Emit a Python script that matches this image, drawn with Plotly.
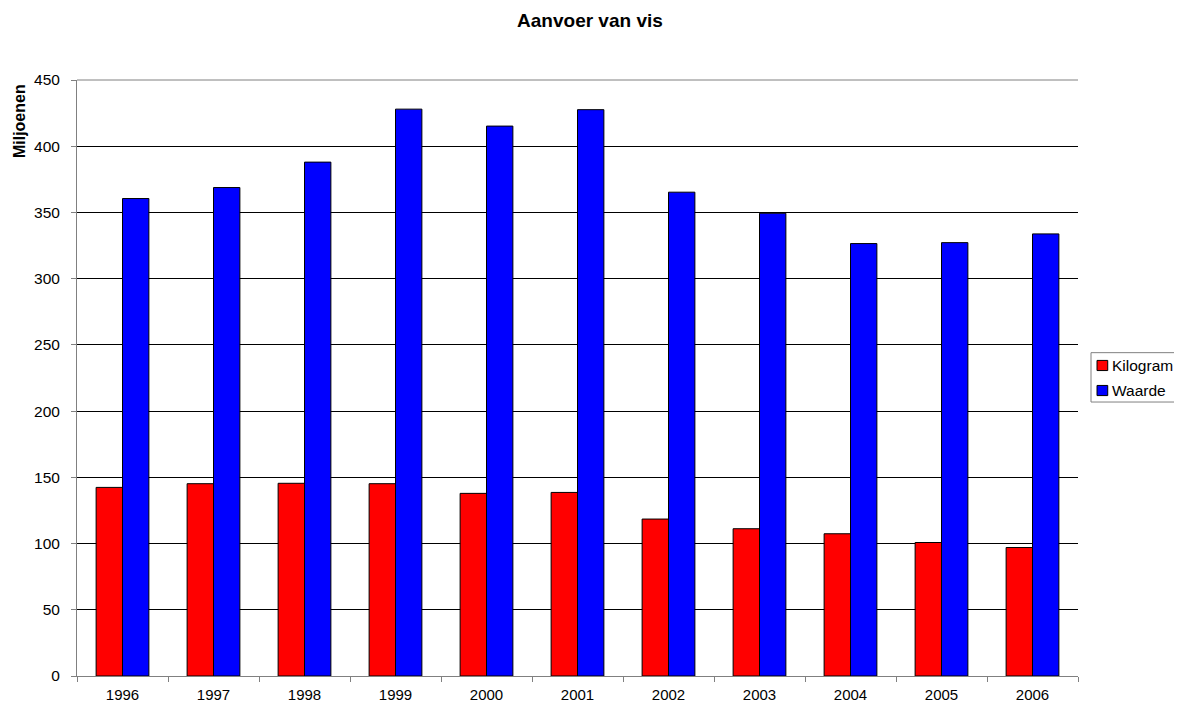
import plotly.graph_objects as go

years = ["1996", "1997", "1998", "1999", "2000", "2001", "2002", "2003", "2004", "2005", "2006"]
kilogram = [142.4, 145.2, 145.5, 145.2, 137.9, 138.6, 118.5, 111.2, 107.4, 100.8, 97.0]
waarde = [360.5, 368.8, 388.0, 428.0, 415.2, 427.6, 365.3, 349.4, 326.5, 327.2, 333.8]
series_names = ["Kilogram", "Waarde"]
series_colors = ["#ff0000", "#0000ff"]

font = "Liberation Sans, Arial, sans-serif"

fig = go.Figure()
for name, vals, col in zip(series_names, [kilogram, waarde], series_colors):
    fig.add_trace(go.Bar(x=years, y=vals, name=name,
                         marker=dict(color=col, line=dict(color="black", width=1))))

fig.update_layout(
    width=1174, height=698,
    margin=dict(l=69, r=104, t=72, b=30),
    paper_bgcolor="white", plot_bgcolor="white",
    barmode="group", bargap=0.42, bargroupgap=0,
    font=dict(family=font, size=15.5, color="black"),
    title=dict(text="<b>Aanvoer van vis</b>", x=0.4957, xanchor="center", y=0.983, yanchor="middle",
               font=dict(size=19, family=font)),
    showlegend=False,
)
fig.update_xaxes(showline=True, linecolor="#808080", linewidth=1,
                 ticks="outside", tickson="boundaries", ticklen=5, tickcolor="#808080",
                 ticklabelstandoff=5, automargin=False,
                 showgrid=False, tickfont=dict(size=15))
fig.update_yaxes(range=[0, 450], dtick=50, showline=True, linecolor="#808080", linewidth=1,
                 ticks="outside", ticklen=5, tickcolor="#808080", ticklabelstandoff=8,
                 automargin=False,
                 showgrid=True, gridcolor="black", gridwidth=1, zeroline=False,
                 tickfont=dict(size=15.5))
# top boundary line at 450
fig.add_shape(type="line", xref="paper", yref="paper", x0=0, x1=1, y0=1, y1=1,
              line=dict(color="#808080", width=1))
fig.add_annotation(text="<b>Miljoenen</b>", xref="paper", yref="paper", x=-0.058, y=0.931,
                   textangle=-90, showarrow=False, xanchor="center", yanchor="middle",
                   font=dict(size=16, family=font))

# legend drawn manually
fig.add_shape(type="rect", xref="paper", yref="paper", x0=1.013, x1=1.12, y0=0.4597, y1=0.5425,
              line=dict(color="#808080", width=1), fillcolor="white")
for i, (name, col) in enumerate(zip(series_names, series_colors)):
    yc = 0.521 - i * 0.042
    fig.add_shape(type="rect", xref="paper", yref="paper", x0=1.0190, x1=1.0297,
                  y0=yc - 0.0085, y1=yc + 0.0085,
                  line=dict(color="black", width=1), fillcolor=col)
    fig.add_annotation(text=name, xref="paper", yref="paper", x=1.0317, y=yc,
                       xanchor="left", yanchor="middle", showarrow=False,
                       font=dict(size=15.5, family=font))

fig.write_html("out.html")
